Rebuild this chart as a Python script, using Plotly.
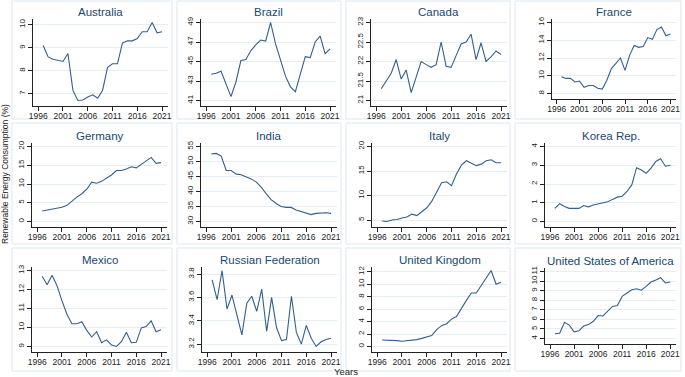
import plotly.graph_objects as go

years = list(range(1997, 2022))
x_ticks = [1996, 2001, 2006, 2011, 2016, 2021]

countries = ["Australia", "Brazil", "Canada", "France",
             "Germany", "India", "Italy", "Korea Rep.",
             "Mexico", "Russian Federation", "United Kingdom", "United States of America"]

australia = [9.1, 8.6, 8.5, 8.45, 8.4, 8.75, 7.15, 6.7, 6.72, 6.85, 6.95, 6.8, 7.15,
             8.15, 8.3, 8.3, 9.2, 9.3, 9.3, 9.4, 9.7, 9.7, 10.1, 9.65, 9.7]
brazil = [43.7, 43.8, 44.0, 42.7, 41.4, 42.9, 45.1, 45.2, 46.1, 46.7, 47.2, 47.1, 49.0,
          46.8, 45.2, 43.5, 42.4, 41.9, 43.7, 45.5, 45.4, 47.0, 47.6, 45.8, 46.3]
canada = [21.3, 21.5, 21.7, 22.05, 21.55, 21.78, 21.2, 21.6, 22.0, 21.92, 21.85, 21.92, 22.5,
          21.88, 21.85, 22.15, 22.45, 22.5, 22.7, 22.05, 22.48, 22.0, 22.12, 22.27, 22.18]
france = [9.9, 9.7, 9.7, 9.3, 9.4, 8.7, 8.9, 8.9, 8.6, 8.5, 9.5, 10.8, 11.4,
          12.0, 10.6, 12.3, 13.4, 13.2, 13.3, 14.3, 14.1, 15.2, 15.5, 14.5, 14.7]
germany = [2.8, 3.0, 3.2, 3.6, 3.8, 4.3, 5.5, 6.5, 7.4, 8.6, 10.5, 10.2, 10.7,
           11.5, 12.4, 13.6, 13.6, 14.0, 14.6, 14.3, 15.2, 16.1, 17.1, 15.5, 15.7]
india = [52.5, 52.7, 51.8, 47.0, 47.0, 45.8, 45.6, 45.0, 44.2, 43.2, 41.5, 39.3, 37.3,
         36.0, 35.0, 34.7, 34.7, 33.8, 33.3, 32.8, 32.3, 32.7, 32.8, 32.9, 32.7]
italy = [4.8, 4.7, 5.0, 5.1, 5.4, 5.6, 6.2, 5.9, 6.7, 7.5, 8.8, 10.8, 12.6,
         12.8, 12.0, 14.4, 16.2, 17.1, 16.6, 16.1, 16.4, 17.1, 17.3, 16.7, 16.7]
korea = [0.7, 0.95, 0.8, 0.7, 0.7, 0.7, 0.85, 0.78, 0.88, 0.95, 1.02, 1.05, 1.18,
         1.3, 1.35, 1.6, 1.95, 2.87, 2.75, 2.57, 2.85, 3.2, 3.35, 2.95, 3.0]
mexico = [12.7, 12.25, 12.75, 12.2, 11.4, 10.7, 10.2, 10.2, 10.3, 9.85, 9.5, 9.78, 9.2,
          9.35, 9.08, 9.0, 9.25, 9.75, 9.2, 9.22, 9.98, 10.05, 10.35, 9.78, 9.88]
russia = [3.75, 3.58, 3.83, 3.5, 3.62, 3.46, 3.28, 3.55, 3.61, 3.48, 3.67, 3.31, 3.6,
          3.34, 3.23, 3.24, 3.61, 3.3, 3.2, 3.36, 3.25, 3.18, 3.22, 3.24, 3.25]
uk = [1.05, 1.05, 0.95, 0.95, 0.85, 0.95, 0.95, 1.1, 1.3, 1.5, 1.75, 2.7, 3.35,
      3.65, 4.4, 4.8, 6.2, 7.4, 8.6, 8.6, 9.8, 11.0, 12.2, 10.0, 10.3]
usa = [4.5, 4.55, 5.7, 5.4, 4.7, 4.8, 5.3, 5.45, 5.8, 6.4, 6.35, 6.85, 7.35,
       7.45, 8.4, 8.75, 9.1, 9.2, 9.05, 9.45, 9.9, 10.1, 10.35, 9.8, 9.9]

series = [australia, brazil, canada, france, germany, india,
          italy, korea, mexico, russia, uk, usa]

y_ticks = [
    [7, 8, 9, 10],
    [41, 43, 45, 47, 49],
    [21, 21.5, 22, 22.5, 23],
    [8, 10, 12, 14, 16],
    [0, 5, 10, 15, 20],
    [30, 35, 40, 45, 50, 55],
    [5, 10, 15, 20],
    [0, 1, 2, 3, 4],
    [9, 10, 11, 12, 13],
    [3.2, 3.4, 3.6, 3.8],
    [0, 2, 4, 6, 8, 10, 12],
    [4, 5, 6, 7, 8, 9, 10, 11],
]

# ---- layout geometry (pixels) ----
W, H = 685, 377
# plot regions: (left, right, top, bottom)
regions = [
    (33, 168, 19, 106), (201, 336, 19, 106), (371, 507, 19, 106), (552, 676, 19, 99),
    (32, 167, 143, 227), (201, 337, 143, 227), (372, 507, 143, 227), (545, 676, 143, 227),
    (32, 167, 267, 352), (202, 337, 267, 352), (372, 507, 267, 352), (545, 676, 268, 344),
]
col_boxes = [(12, 172), (177, 341), (346, 510), (515, 681)]
row_boxes = [(1, 119), (123, 244), (248, 371)]

LINE = "#335f8c"
NAVY = "#1a476f"
GRID = "#e6eef2"
BOX = "#dbe7ed"
FONT = "Liberation Sans, Arial, sans-serif"

fig = go.Figure()
layout = dict(
    width=W, height=H, autosize=False,
    margin=dict(l=0, r=0, t=0, b=0, pad=0),
    paper_bgcolor="white", plot_bgcolor="white",
    showlegend=False,
    font=dict(family=FONT, color="#222222"),
)
annotations = []
shapes = []

for i, (name, vals, ticks) in enumerate(zip(countries, series, y_ticks)):
    n = i + 1
    xa = "x" if n == 1 else f"x{n}"
    ya = "y" if n == 1 else f"y{n}"
    fig.add_trace(go.Scatter(x=years, y=vals, mode="lines",
                             line=dict(color=LINE, width=1.1),
                             xaxis=xa, yaxis=ya, hoverinfo="skip"))
    l, r, t, b = regions[i]
    hpx = b - t
    lo = min(min(ticks), min(vals))
    hi = max(max(ticks), max(vals))
    ppu = (hpx - 9) / (hi - lo)
    yr = [lo - 5.5 / ppu, hi + 3.5 / ppu]
    xkey = "xaxis" if n == 1 else f"xaxis{n}"
    ykey = "yaxis" if n == 1 else f"yaxis{n}"
    layout[xkey] = dict(
        domain=[l / W, r / W], anchor=ya, range=[1994.95, 2022.2],
        automargin=False,
        tickmode="array", tickvals=x_ticks, ticktext=[str(v) for v in x_ticks],
        showline=True, linecolor="#222222", linewidth=1,
        ticks="outside", ticklen=4, tickcolor="#222222", tickwidth=1,
        ticklabelstandoff=-2,
        showgrid=False, zeroline=False,
        tickfont=dict(size=8.5, family=FONT, color="#222222"),
        fixedrange=True,
    )
    layout[ykey] = dict(
        domain=[1 - b / H, 1 - t / H], anchor=xa, range=yr,
        automargin=False,
        tickmode="array", tickvals=ticks, ticktext=[f"{v:g}" for v in ticks],
        tickangle=-90,
        showline=True, linecolor="#222222", linewidth=1,
        ticks="outside", ticklen=4, tickcolor="#222222", tickwidth=1,
        showgrid=True, gridcolor=GRID, gridwidth=1, zeroline=False,
        tickfont=dict(size=8, family=FONT, color="#222222"),
        fixedrange=True,
    )
    annotations.append(dict(
        text=name, x=(l + r) / 2 / W, y=1 - (t - 7) / H,
        xref="paper", yref="paper", xanchor="center", yanchor="middle",
        showarrow=False, font=dict(size=11.5, color=NAVY, family=FONT),
    ))
    row, col = divmod(i, 4)
    cx0, cx1 = col_boxes[col]
    ry0, ry1 = row_boxes[row]
    shapes.append(dict(type="rect", xref="paper", yref="paper",
                       x0=cx0 / W, x1=cx1 / W, y0=1 - ry1 / H, y1=1 - ry0 / H,
                       line=dict(color=BOX, width=1), layer="below"))

annotations.append(dict(
    text="Years", x=346 / W, y=1 - 371 / H, xref="paper", yref="paper",
    xanchor="center", yanchor="middle", showarrow=False,
    font=dict(size=9.5, color="#222222", family=FONT),
))
annotations.append(dict(
    text="Renewable Energy Consumption (%)", x=5 / W, y=1 - 174 / H,
    xref="paper", yref="paper", xanchor="center", yanchor="middle",
    textangle=-90, showarrow=False,
    font=dict(size=8.5, color="#222222", family=FONT),
))

layout["annotations"] = annotations
layout["shapes"] = shapes
fig.update_layout(**layout)
fig.write_html(
    "out.html",
    config={"displayModeBar": False},
    post_script="document.body.style.margin='0px';document.body.style.overflow='hidden';",
)
